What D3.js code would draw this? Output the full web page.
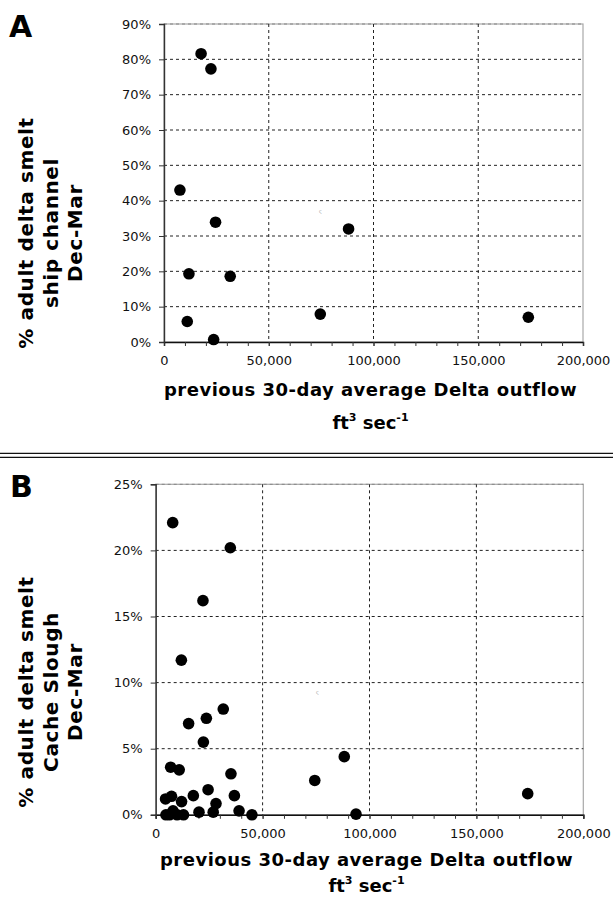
<!DOCTYPE html>
<html>
<head>
<meta charset="utf-8">
<script src="https://cdn.jsdelivr.net/npm/d3@7"></script>
<style>
html,body{margin:0;padding:0;background:#fff;}
svg{display:block;}
</style>
</head>
<body>
<svg id="chart" width="613" height="901"></svg>
<script>
// ---- data ----
const xTicks = [0, 50000, 100000, 150000, 200000];
const xMinorTicks = d3.range(0, 200001, 10000);
const yTicksA = [0, 10, 20, 30, 40, 50, 60, 70, 80, 90];
const yTicksB = [0, 5, 10, 15, 20, 25];

const flowA = [17700, 22400, 7600, 24600, 88100, 11900, 31600, 74600, 173900, 11100, 23700];
const pctA  = [81.6, 77.3, 43.0, 33.9, 32.0, 19.3, 18.6, 7.9, 7.0, 5.8, 0.7];

const flowB = [7950, 34900, 22100, 12000, 31600, 23700, 15400, 22300, 7000, 11000, 35200, 24500,
               17600, 36800, 7400, 4600, 12100, 28200, 39000, 20250, 26900, 45000, 4800, 6500,
               8100, 10000, 13000, 88200, 74400, 174000, 93700];
const pctB  = [22.1, 20.2, 16.2, 11.7, 8.0, 7.3, 6.9, 5.5, 3.6, 3.4, 3.1, 1.9,
               1.45, 1.45, 1.4, 1.2, 1.0, 0.85, 0.3, 0.2, 0.2, 0.0, 0.0, 0.0,
               0.3, 0.0, 0.0, 4.4, 2.6, 1.6, 0.05];

const yTitleA = ["% adult delta smelt", "ship channel", "Dec-Mar"];
const yTitleB = ["% adult delta smelt", "Cache Slough", "Dec-Mar"];
const xTitle = "previous 30-day average Delta outflow";

const svg = d3.select("#chart");
const fmt = d3.format(",");

function panel(cfg) {
  const x = d3.scaleLinear().domain([0, 200000]).range([cfg.left, cfg.right]);
  const y = d3.scaleLinear().domain([0, cfg.yMax]).range([cfg.bottom, cfg.top]);
  const g = svg.append("g");

  // plot border (gray)
  g.append("rect")
    .attr("x", cfg.left).attr("y", cfg.top)
    .attr("width", cfg.right - cfg.left).attr("height", cfg.bottom - cfg.top)
    .attr("fill", "none").attr("stroke", "#a8a8a8").attr("stroke-width", 1.2);

  // gridlines
  g.append("g").selectAll("line").data(cfg.yTicks.filter(d => d > 0)).join("line")
    .attr("x1", cfg.left).attr("x2", cfg.right)
    .attr("y1", d => y(d)).attr("y2", d => y(d))
    .attr("stroke", d => d === cfg.yMax ? "#888" : "#222").attr("stroke-width", 1)
    .attr("stroke-dasharray", "3,3");
  g.append("g").selectAll("line").data(xTicks.filter(d => d > 0 && d < 200000)).join("line")
    .attr("x1", d => x(d)).attr("x2", d => x(d))
    .attr("y1", cfg.top).attr("y2", cfg.bottom)
    .attr("stroke", "#222").attr("stroke-width", 1)
    .attr("stroke-dasharray", "3,3");

  // x axis (minor ticks + labels)
  const xAxisMinor = d3.axisBottom(x).tickValues(xMinorTicks).tickSize(4).tickFormat("");
  const gxm = g.append("g").attr("transform", `translate(0,${cfg.bottom})`).call(xAxisMinor);
  gxm.select(".domain").attr("stroke", "#111").attr("stroke-width", 1.5);
  gxm.selectAll(".tick line").attr("stroke", "#333");

  const xAxis = d3.axisBottom(x).tickValues(xTicks).tickSize(4).tickPadding(cfg.xPad).tickFormat(fmt);
  const gx = g.append("g").attr("transform", `translate(0,${cfg.bottom})`).call(xAxis);
  gx.select(".domain").remove();
  gx.selectAll(".tick line").attr("stroke", "#333");
  gx.selectAll("text").attr("font-family", "DejaVu Sans, Verdana, sans-serif")
    .attr("font-size", 13).attr("fill", "#111");

  // y axis
  const yAxis = d3.axisLeft(y).tickValues(cfg.yTicks).tickSize(5).tickPadding(cfg.yPad).tickFormat(d => d + "%");
  const gy = g.append("g").attr("transform", `translate(${cfg.left},0)`).call(yAxis);
  gy.select(".domain").attr("stroke", "#333").attr("stroke-width", 1.4);
  gy.selectAll(".tick line").attr("stroke", "#333");
  gy.selectAll("text").attr("font-family", "DejaVu Sans, Verdana, sans-serif")
    .attr("font-size", 13).attr("fill", "#111");

  // points
  g.append("g").selectAll("circle").data(cfg.flow.map((f, i) => [f, cfg.pct[i]])).join("circle")
    .attr("cx", d => x(d[0])).attr("cy", d => y(d[1])).attr("r", 5.8)
    .attr("fill", "#000");

  // tiny artifact mark
  g.append("text").attr("x", cfg.markX).attr("y", cfg.markY)
    .attr("font-size", 5).attr("fill", "#999").attr("font-family", "DejaVu Sans")
    .text("ς");

  // panel letter
  g.append("text").attr("x", cfg.letterX).attr("y", cfg.letterY)
    .attr("font-family", "DejaVu Sans, Verdana, sans-serif").attr("font-weight", "bold")
    .attr("font-size", 30).attr("fill", "#000").text(cfg.letter);

  // y title (rotated)
  const yt = g.append("text")
    .attr("transform", `translate(${cfg.yTitleX},${cfg.yTitleY}) rotate(-90)`)
    .attr("text-anchor", "middle")
    .attr("font-family", "DejaVu Sans, Verdana, sans-serif").attr("font-weight", "bold")
    .attr("font-size", 20).attr("letter-spacing", 0.6).attr("fill", "#000");
  cfg.yTitle.forEach((t, i) => {
    yt.append("tspan").attr("x", 0).attr("y", i * 24.5).text(t);
  });

  // x title
  const cx = (cfg.left + cfg.right) / 2 - 3;
  g.append("text").attr("x", cx).attr("y", cfg.xTitleY)
    .attr("text-anchor", "middle")
    .attr("font-family", "DejaVu Sans, Verdana, sans-serif").attr("font-weight", "bold")
    .attr("font-size", 18).attr("letter-spacing", 0.5).attr("fill", "#000")
    .text(xTitle);
  const u = g.append("text").attr("x", cx).attr("y", cfg.xTitleY + cfg.unitDy)
    .attr("text-anchor", "middle")
    .attr("font-family", "DejaVu Sans, Verdana, sans-serif").attr("font-weight", "bold")
    .attr("font-size", 18).attr("fill", "#000");
  u.append("tspan").text("ft");
  u.append("tspan").attr("font-size", 11).attr("dy", -8).text("3");
  u.append("tspan").attr("dy", 8).text(" sec");
  u.append("tspan").attr("font-size", 11).attr("dy", -8).text("-1");
}

panel({
  left: 164, right: 583, top: 24, bottom: 342, yMax: 90, yTicks: yTicksA,
  flow: flowA, pct: pctA, letter: "A", letterX: 9, letterY: 37,
  yTitle: yTitleA, yTitleX: 33, yTitleY: 233,
  xTitleY: 396, unitDy: 33, xPad: 10, yPad: 8,
  markX: 319, markY: 213
});

panel({
  left: 155.7, right: 583.3, top: 484.3, bottom: 814.8, yMax: 25, yTicks: yTicksB,
  flow: flowB, pct: pctB, letter: "B", letterX: 10, letterY: 497,
  yTitle: yTitleB, yTitleX: 33, yTitleY: 692,
  xTitleY: 866, unitDy: 26, xPad: 10, yPad: 8,
  markX: 316, markY: 694
});

// double separator line
svg.append("g").selectAll("line").data([453.3, 457.3]).join("line")
  .attr("x1", 0).attr("x2", 613).attr("y1", d => d).attr("y2", d => d)
  .attr("stroke", "#111").attr("stroke-width", 1.3);
</script>
</body>
</html>
